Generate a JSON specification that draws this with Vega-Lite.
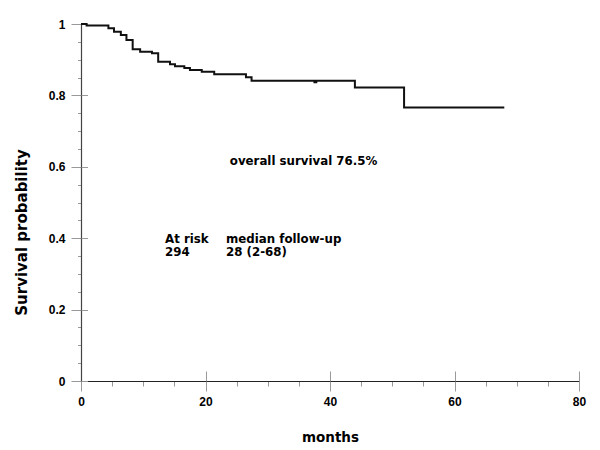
{
  "$schema": "https://vega.github.io/schema/vega-lite/v6.json",
  "autosize": "none",
  "width": 498,
  "height": 357,
  "padding": {"left": 81, "top": 24, "right": 21, "bottom": 69},
  "background": "white",
  "config": {"view": {"stroke": null}},
  "datasets": {
    "curve": [
      {"month": 0, "surv": 1},
      {"month": 0.9, "surv": 0.996},
      {"month": 4.4, "surv": 0.988},
      {"month": 5.3, "surv": 0.978},
      {"month": 6.4, "surv": 0.969},
      {"month": 7.3, "surv": 0.955},
      {"month": 8.3, "surv": 0.929},
      {"month": 9.5, "surv": 0.922},
      {"month": 11.4, "surv": 0.918},
      {"month": 12.4, "surv": 0.894},
      {"month": 14.3, "surv": 0.887},
      {"month": 15.1, "surv": 0.882},
      {"month": 16.6, "surv": 0.877},
      {"month": 17.5, "surv": 0.871},
      {"month": 19.4, "surv": 0.866},
      {"month": 21.4, "surv": 0.859},
      {"month": 26.5, "surv": 0.851},
      {"month": 27.4, "surv": 0.841},
      {"month": 37.5, "surv": 0.837},
      {"month": 37.8, "surv": 0.841},
      {"month": 44.0, "surv": 0.822},
      {"month": 51.9, "surv": 0.766},
      {"month": 68, "surv": 0.766}
    ],
    "notes": [
      {"month": 23.9, "prob": 0.604, "label": "overall survival 76.5%"},
      {"month": 13.5, "prob": 0.387, "label": "At risk"},
      {"month": 13.5, "prob": 0.349, "label": "294"},
      {"month": 23.3, "prob": 0.387, "label": "median follow-up"},
      {"month": 23.3, "prob": 0.349, "label": "28 (2-68)"}
    ]
  },
  "layer": [
    {
      "data": {"name": "curve"},
      "mark": {"type": "line", "interpolate": "step-after", "color": "#111111", "strokeWidth": 2},
      "encoding": {
        "x": {
          "field": "month", "type": "quantitative",
          "scale": {"domain": [0, 80], "nice": false},
          "axis": {
            "orient": "bottom",
            "title": "months",
            "titleFont": "DejaVu Sans", "titleFontWeight": "bold", "titleFontSize": 13.5, "titleColor": "#000",
            "titleBaseline": "middle", "titleY": 56,
            "values": [0,5,10,15,20,25,30,35,40,45,50,55,60,65,70,75,80],
            "labelExpr": "datum.value % 20 === 0 ? datum.label : ''",
            "labelFont": "Liberation Sans", "labelFontWeight": "bold", "labelFontSize": 12, "labelColor": "#000",
            "labelPadding": 5, "labelFlush": false, "labelOverlap": false,
            "grid": false,
            "domainColor": "#222", "domainWidth": 1.2,
            "tickColor": "#999",
            "tickSize": {"condition": {"test": "datum.value % 20 === 0", "value": 10}, "value": 5}
          }
        },
        "y": {
          "field": "surv", "type": "quantitative",
          "scale": {"domain": [0, 1], "nice": false},
          "axis": {
            "orient": "left",
            "title": "Survival probability",
            "titleFont": "DejaVu Sans", "titleFontWeight": "bold", "titleFontSize": 15, "titleColor": "#000",
            "titleBaseline": "middle", "titleX": -60, "titleY": 208,
            "values": [0,0.05,0.1,0.15,0.2,0.25,0.3,0.35,0.4,0.45,0.5,0.55,0.6,0.65,0.7,0.75,0.8,0.85,0.9,0.95,1],
            "format": "~g",
            "labelExpr": "abs(datum.value*5 - round(datum.value*5)) < 0.001 ? datum.label : ''",
            "labelFont": "Liberation Sans", "labelFontWeight": "bold", "labelFontSize": 12, "labelColor": "#000",
            "labelPadding": 6, "labelFlush": false, "labelOverlap": false,
            "grid": false,
            "domainColor": "#444", "domainWidth": 1.2,
            "tickColor": "#999",
            "tickSize": {"condition": {"test": "abs(datum.value*5 - round(datum.value*5)) < 0.001", "value": 10}, "value": 3.5}
          }
        }
      }
    },
    {
      "data": {"name": "notes"},
      "mark": {"type": "text", "align": "left", "baseline": "alphabetic", "font": "DejaVu Sans", "fontWeight": "bold", "fontSize": 11.8, "color": "#000"},
      "encoding": {
        "x": {
          "field": "month", "type": "quantitative",
          "scale": {"domain": [0, 80], "nice": false},
          "axis": {"orient": "bottom", "title": null, "labels": false, "domain": false, "grid": false,
                   "values": [0,20,40,60,80], "tickColor": "#999", "tickSize": -10}
        },
        "y": {
          "field": "prob", "type": "quantitative",
          "scale": {"domain": [0, 1], "nice": false},
          "axis": {"orient": "left", "title": null, "labels": false, "domain": false, "grid": false,
                   "values": [0,0.2,0.4,0.6,0.8,1], "tickColor": "#999", "tickSize": -6.5}
        },
        "text": {"field": "label", "type": "nominal"}
      }
    }
  ],
  "resolve": {"axis": {"x": "independent", "y": "independent"}}
}
